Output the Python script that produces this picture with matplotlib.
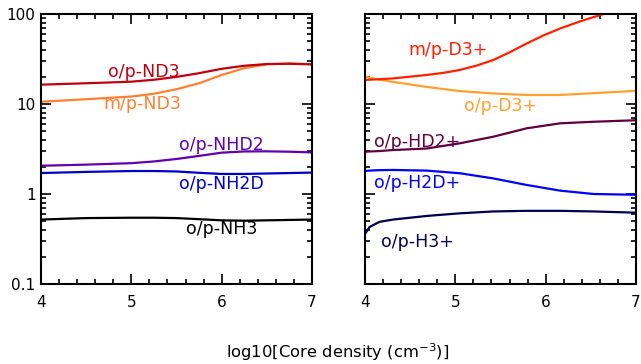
import matplotlib
matplotlib.use("Agg")
import matplotlib.pyplot as plt
from matplotlib.ticker import MultipleLocator, LogLocator, NullFormatter, FixedLocator, FixedFormatter

# ---- data (log10 core density vs ratio) ----
x_left = [4.0, 4.5, 5.0, 5.25, 5.5, 5.75, 6.0, 6.25, 6.5, 6.75, 7.0]
op_ND3 = [16.4, 17.0, 17.7, 18.6, 20.0, 22.0, 24.6, 26.6, 27.8, 28.0, 27.6]
mp_ND3 = [10.6, 11.3, 12.1, 13.0, 14.6, 17.0, 21.0, 25.0, 27.6, 28.2, 27.6]
op_NHD2 = [2.06, 2.12, 2.2, 2.3, 2.45, 2.65, 2.88, 2.97, 2.98, 2.95, 2.9]
op_NH2D = [1.71, 1.76, 1.80, 1.80, 1.78, 1.72, 1.67, 1.67, 1.69, 1.71, 1.73]
op_NH3 = [0.52, 0.54, 0.545, 0.545, 0.54, 0.525, 0.51, 0.505, 0.51, 0.515, 0.52]

x_D3m = [4.0, 4.3, 4.68, 4.87, 5.05, 5.24, 5.42, 5.6, 5.79, 5.97, 6.16, 6.4, 6.64]
mp_D3 = [18.5, 19.2, 21.0, 22.2, 23.9, 26.8, 30.8, 37.5, 47.0, 57.5, 69.0, 84.0, 100.0]
x_right = [4.0, 4.05, 4.16, 4.31, 4.68, 5.05, 5.42, 5.79, 6.16, 6.53, 7.0]
op_D3 = [20.3, 19.6, 18.6, 17.6, 15.5, 13.9, 13.1, 12.6, 12.6, 13.2, 14.0]
op_HD2 = [2.95, 2.97, 3.0, 3.08, 3.2, 3.66, 4.33, 5.37, 6.1, 6.35, 6.6]
op_H2D = [1.8, 1.82, 1.84, 1.85, 1.82, 1.7, 1.49, 1.26, 1.09, 1.0, 0.98]
op_H3 = [0.36, 0.43, 0.49, 0.52, 0.57, 0.61, 0.64, 0.65, 0.65, 0.64, 0.62]

left_series = [
    ("o/p-NH3", op_NH3, "#000000", (6.0, 0.41)),
    ("o/p-NH2D", op_NH2D, "#0000c8", (6.0, 1.29)),
    ("o/p-NHD2", op_NHD2, "#6000b0", (6.0, 3.5)),
    ("m/p-ND3", mp_ND3, "#ff8030", (5.12, 9.9)),
    ("o/p-ND3", op_ND3, "#c00010", (5.14, 22.5)),
]
right_series = [
    ("o/p-H3+", x_right, op_H3, "#000050", (4.58, 0.29)),
    ("o/p-H2D+", x_right, op_H2D, "#0000ff", (4.58, 1.33)),
    ("o/p-HD2+", x_right, op_HD2, "#600040", (4.58, 3.8)),
    ("o/p-D3+", x_right, op_D3, "#ffa030", (5.5, 9.6)),
    ("m/p-D3+", x_D3m, mp_D3, "#ff2000", (4.92, 40.0)),
]

xticks = [4, 5, 6, 7]
yticks = [0.1, 1, 10, 100]
ytick_labels = ["0.1", "1", "10", "100"]

fig = plt.figure(figsize=(6.41, 3.64), dpi=100)
W, H = 641, 364
ax1 = fig.add_axes([41 / W, 1 - 284 / H, 271 / W, 270 / H])
ax2 = fig.add_axes([365 / W, 1 - 284 / H, 271 / W, 270 / H])

fs = 11
lfs = 12.5
for ax in (ax1, ax2):
    ax.set_yscale("log")
    ax.set_xlim(4, 7)
    ax.set_ylim(0.1, 100)
    ax.xaxis.set_major_locator(FixedLocator(xticks))
    ax.xaxis.set_minor_locator(MultipleLocator(0.2))
    ax.yaxis.set_major_locator(FixedLocator(yticks))
    ax.yaxis.set_minor_locator(LogLocator(base=10, subs=range(2, 10)))
    ax.yaxis.set_minor_formatter(NullFormatter())
    ax.tick_params(which="both", direction="in", top=True, right=True,
                   width=1.2, labelsize=fs, pad=8)
    ax.tick_params(which="major", length=7)
    ax.tick_params(which="minor", length=3.5)
    for s in ax.spines.values():
        s.set_linewidth(1.5)

ax1.yaxis.set_major_formatter(FixedFormatter(ytick_labels))
ax2.yaxis.set_major_formatter(NullFormatter())
ax1.tick_params(axis="y", pad=4)

for name, vals, col, (tx, ty) in left_series:
    ax1.plot(x_left, vals, color=col, lw=1.6)
    ax1.text(tx, ty, name, color=col, fontsize=lfs, ha="center", va="center")

for name, xs, vals, col, (tx, ty) in right_series:
    ax2.plot(xs, vals, color=col, lw=1.6, clip_on=True)
    ax2.text(tx, ty, name, color=col, fontsize=lfs, ha="center", va="center")

fig.text(338 / W, 1 - 352 / H, "log10[Core density (cm$^{-3}$)]", fontsize=11.8,
         ha="center", va="center")

fig.savefig("out.png", dpi=100)
